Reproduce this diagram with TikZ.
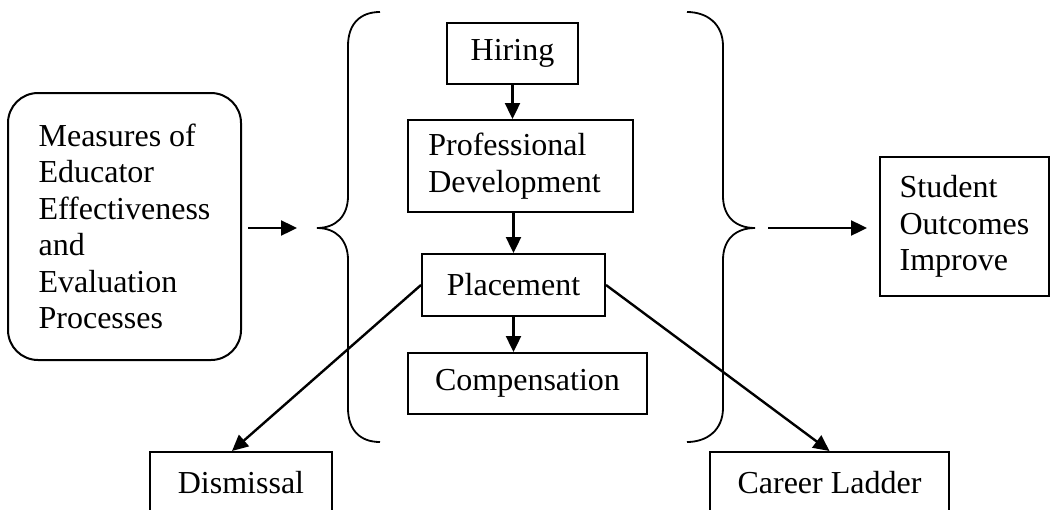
\documentclass[tikz,border=0pt]{standalone}
\usepackage{fontspec}
\setmainfont{Liberation Serif}
\usetikzlibrary{arrows.meta,calc}
\begin{document}
\begin{tikzpicture}[x=1pt,y=-1pt,
  every node/.style={font=\fontsize{32}{36.5}\selectfont},
  box/.style={draw,line width=2pt,inner sep=0pt},
  conn/.style={line width=2.4pt,-{Triangle[length=16pt,width=15pt]}},
  bracestyle/.style={line width=1.8pt}]
\useasboundingbox (0,0) rectangle (1050,509);

% nodes
\node[box,rounded corners=30pt,minimum width=233pt,minimum height=267pt,align=left] (meas) at (124.5,226.5)
  {Measures of\\Educator\\Effectiveness\\and\\Evaluation\\Processes};
\node[box,minimum width=131pt,minimum height=61pt] (hire) at (512.5,53.5) {Hiring\hspace{7pt}};
\node[box,minimum width=225pt,minimum height=92pt,align=left] (pd) at (520.5,166) {Professional\\Development\hspace*{12pt}};
\node[box,minimum width=183pt,minimum height=62pt] (place) at (513.5,285) {Placement\hspace{9pt}};
\node[box,minimum width=239pt,minimum height=61pt] (comp) at (527.5,383.5) {Compensation\hspace{12pt}};
\node[box,minimum width=182pt,minimum height=62pt] (dism) at (241,483) {Dismissal\hspace{16pt}};
\node[box,minimum width=239pt,minimum height=62pt] (career) at (829.5,483) {Career Ladder\hspace{14pt}};
\node[box,minimum width=169pt,minimum height=139pt,align=left] (stud) at (964.5,226.5) {Student\\Outcomes\\Improve};

% braces
\coordinate (lb) at (317,228);
\coordinate (rb) at (755,228);
\draw[bracestyle] (380,12) .. controls (360,12) and (348,24) .. (348,46)
  -- (348,196) .. controls (348,216) and (336,228) .. (lb)
  .. controls (336,228) and (348,240) .. (348,260)
  -- (348,408) .. controls (348,430) and (360,442) .. (380,442);
\draw[bracestyle] (687,12) .. controls (707,12) and (723,24) .. (723,46)
  -- (723,196) .. controls (723,216) and (735,228) .. (rb)
  .. controls (735,228) and (723,240) .. (723,260)
  -- (723,408) .. controls (723,430) and (707,442) .. (687,442);

% connectors
\draw[conn,shorten <=6pt,shorten >=20pt] (meas.east |- lb) -- (lb);
\draw[conn,shorten <=13pt,shorten >=12pt] (rb) -- (stud.west |- rb);
\draw[conn] (hire.south) -- (hire.south |- pd.north);
\draw[conn] (place.north |- pd.south) -- (place.north);
\draw[conn] (place.south) -- (place.south |- comp.north);
\draw[conn] (place.west) -- ([xshift=-9pt]dism.north);
\draw[conn] (place.east) -- (career.north);
\end{tikzpicture}
\end{document}
